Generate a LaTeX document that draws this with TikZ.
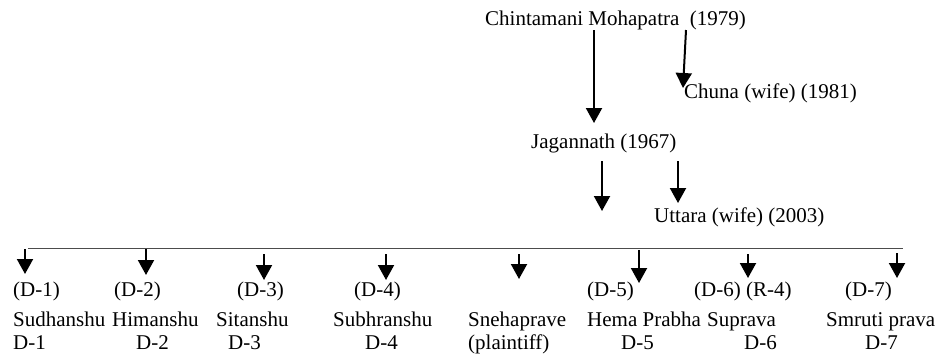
\documentclass[tikz,border=0pt]{standalone}
\usepackage{fontspec}
\setmainfont{Liberation Serif}
\usepackage{tikz}
\usetikzlibrary{arrows.meta}
\tikzset{person/.style={anchor=base west,inner sep=0pt,font=\fontsize{21}{25}\selectfont},
         arr/.style={line width=2pt,-{Triangle[width=16pt,length=15pt]}}}

\begin{document}
\begin{tikzpicture}[x=1pt,y=-1pt]
            \useasboundingbox (0,0) rectangle (937,354);
            % parents
            \node[person] (chin) at (485,25) {Chintamani Mohapatra\ \ (1979)};
            \node[person] (chuna) at (684,98) {Chuna (wife) (1981)};
            \node[person] (jag) at (531,148) {Jagannath (1967)};
            \node[person] (uttara) at (654,222) {Uttara (wife) (2003)};
            \coordinate (chin1) at (594,30);  \coordinate (jag1) at (594,123);
            \coordinate (chin2) at (686,30);  \coordinate (chuna1) at (683,88);
            \coordinate (jag2) at (602,161);  \coordinate (kids) at (602,211);
            \coordinate (jag3) at (678,161);  \coordinate (uttara1) at (678,203);
             \draw[arr] (chin1) to (jag1);
             \draw[arr] (chin2) to (chuna1);
             \draw[arr] (jag2) to (kids);
             \draw[arr] (jag3) to (uttara1);
            % children line
            \coordinate (left) at (28,248);  \coordinate (right) at (903,248);
            \draw[line width=0.9pt,black!70] (left) to (right);
            % children
            \node[person] (p1) at (13,296) {(D-1)};
            \node[person] (p2) at (114,296) {(D-2)};
            \node[person] (p3) at (237,296) {(D-3)};
            \node[person] (p4) at (354,296) {(D-4)};
            \node[person] (p5) at (587,296) {(D-5)};
            \node[person] (p6) at (694,296) {(D-6) (R-4)};
            \node[person] (p7) at (845,296) {(D-7)};
            \node[person] (k1) at (13,326) {Sudhanshu};
            \node[person] (k2) at (112,326) {Himanshu};
            \node[person] (k3) at (216,326) {Sitanshu};
            \node[person] (k4) at (333,326) {Subhranshu};
            \node[person] (k5) at (468,326) {Snehaprave};
            \node[person] (k6) at (587,326) {Hema Prabha};
            \node[person] (k7) at (707,326) {Suprava};
            \node[person] (k8) at (826,326) {Smruti prava};
            \node[person] (d1) at (13,349) {D-1};
            \node[person] (d2) at (136,349) {D-2};
            \node[person] (d3) at (228,349) {D-3};
            \node[person] (d4) at (365,349) {D-4};
            \node[person] (d5) at (468,349) {(plaintiff)};
            \node[person] (d6) at (621,349) {D-5};
            \node[person] (d7) at (744,349) {D-6};
            \node[person] (d8) at (865,349) {D-7};
            % arrows to children
            \coordinate (t1) at (25,249);  \coordinate (h1) at (25,274);
            \coordinate (t2) at (146,249); \coordinate (h2) at (146,275);
            \coordinate (t3) at (264,254); \coordinate (h3) at (264,280);
            \coordinate (t4) at (386,254); \coordinate (h4) at (386,280);
            \coordinate (t5) at (519,254); \coordinate (h5) at (519,279);
            \coordinate (t6) at (639,250); \coordinate (h6) at (639,283);
            \coordinate (t7) at (748,254); \coordinate (h7) at (748,278);
            \coordinate (t8) at (897,253); \coordinate (h8) at (897,278);
             \draw[arr] (t1) to (h1);
             \draw[arr] (t2) to (h2);
             \draw[arr] (t3) to (h3);
             \draw[arr] (t4) to (h4);
             \draw[arr] (t5) to (h5);
             \draw[arr] (t6) to (h6);
             \draw[arr] (t7) to (h7);
             \draw[arr] (t8) to (h8);
      \end{tikzpicture}
\end{document}
